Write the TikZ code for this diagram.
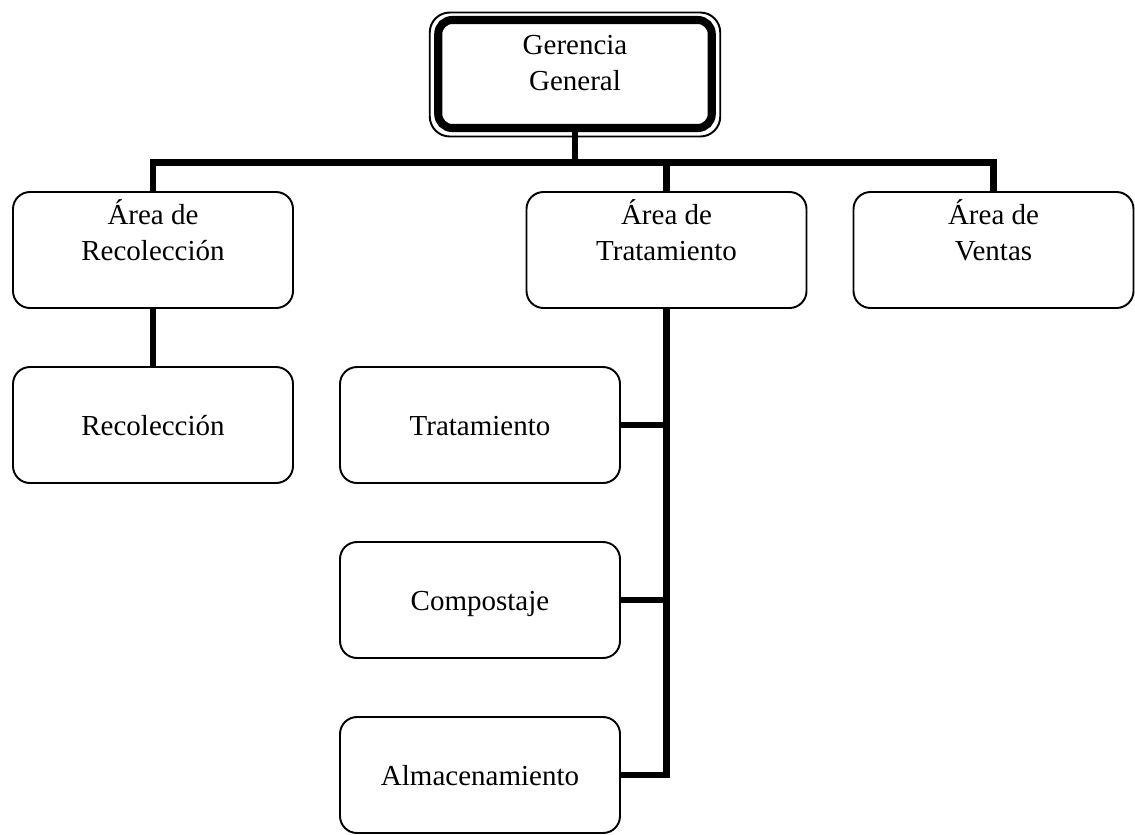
\documentclass[tikz,border=0pt]{standalone}
\usepackage{fontspec}
\setmainfont{Liberation Serif}
\begin{document}
\begin{tikzpicture}[
    unit/.style={draw, line width=1.1pt, rounded corners=0.34cm, outer sep=0pt,
      inner sep=0pt, minimum width=5.6cm, align=center, anchor=north,
      text height=1.36cm, text depth=0.96cm,
      font=\fontsize{16.5}{20}\selectfont},
    link/.style={line width=3.7pt, line join=miter}]

  \useasboundingbox (0,0) rectangle (22.7,-16.68);

  % Head
  \node [unit, line width=4.6pt, rounded corners=0.28cm, minimum width=5.47cm,
    text height=1.4cm, text depth=0.76cm] (gg) at (11.5,-0.4) {Gerencia\\General};
  \draw [line width=1.1pt, rounded corners=0.4cm]
    ([xshift=-0.17cm, yshift=0.15cm]gg.north west) rectangle
    ([xshift=0.17cm, yshift=-0.17cm]gg.south east);

  % Areas
  \node [unit] (rec) at (3.06,-3.84) {Área de\\Recolección};
  \node [unit] (tra) at (13.33,-3.84) {Área de\\Tratamiento};
  \node [unit] (ven) at (19.87,-3.84) {Área de\\Ventas};

  % Units
  \node [unit] (r1) at (3.06,-7.34) {Recolección};
  \foreach \name/\y/\txt in {t1/-7.34/Tratamiento, t2/-10.84/Compostaje,
      t3/-14.34/Almacenamiento}
    \node [unit] (\name) at (9.6,\y) {\txt};

  % Connectors
  \coordinate (bus) at (0,-3.25);
  \draw [link] (gg.south) -- (gg.south |- bus);
  \draw [link] (rec.north) |- (ven.north |- bus) -- (ven.north);
  \draw [link] (tra.north) -- (tra.north |- bus);
  \draw [link] (rec.south) -- (r1.north);
  \draw [link] (tra.south) |- (t3.east);
  \foreach \name in {t1,t2}
    \draw [link] (\name.east) -- (\name.east -| tra.south);

\end{tikzpicture}
\end{document}
